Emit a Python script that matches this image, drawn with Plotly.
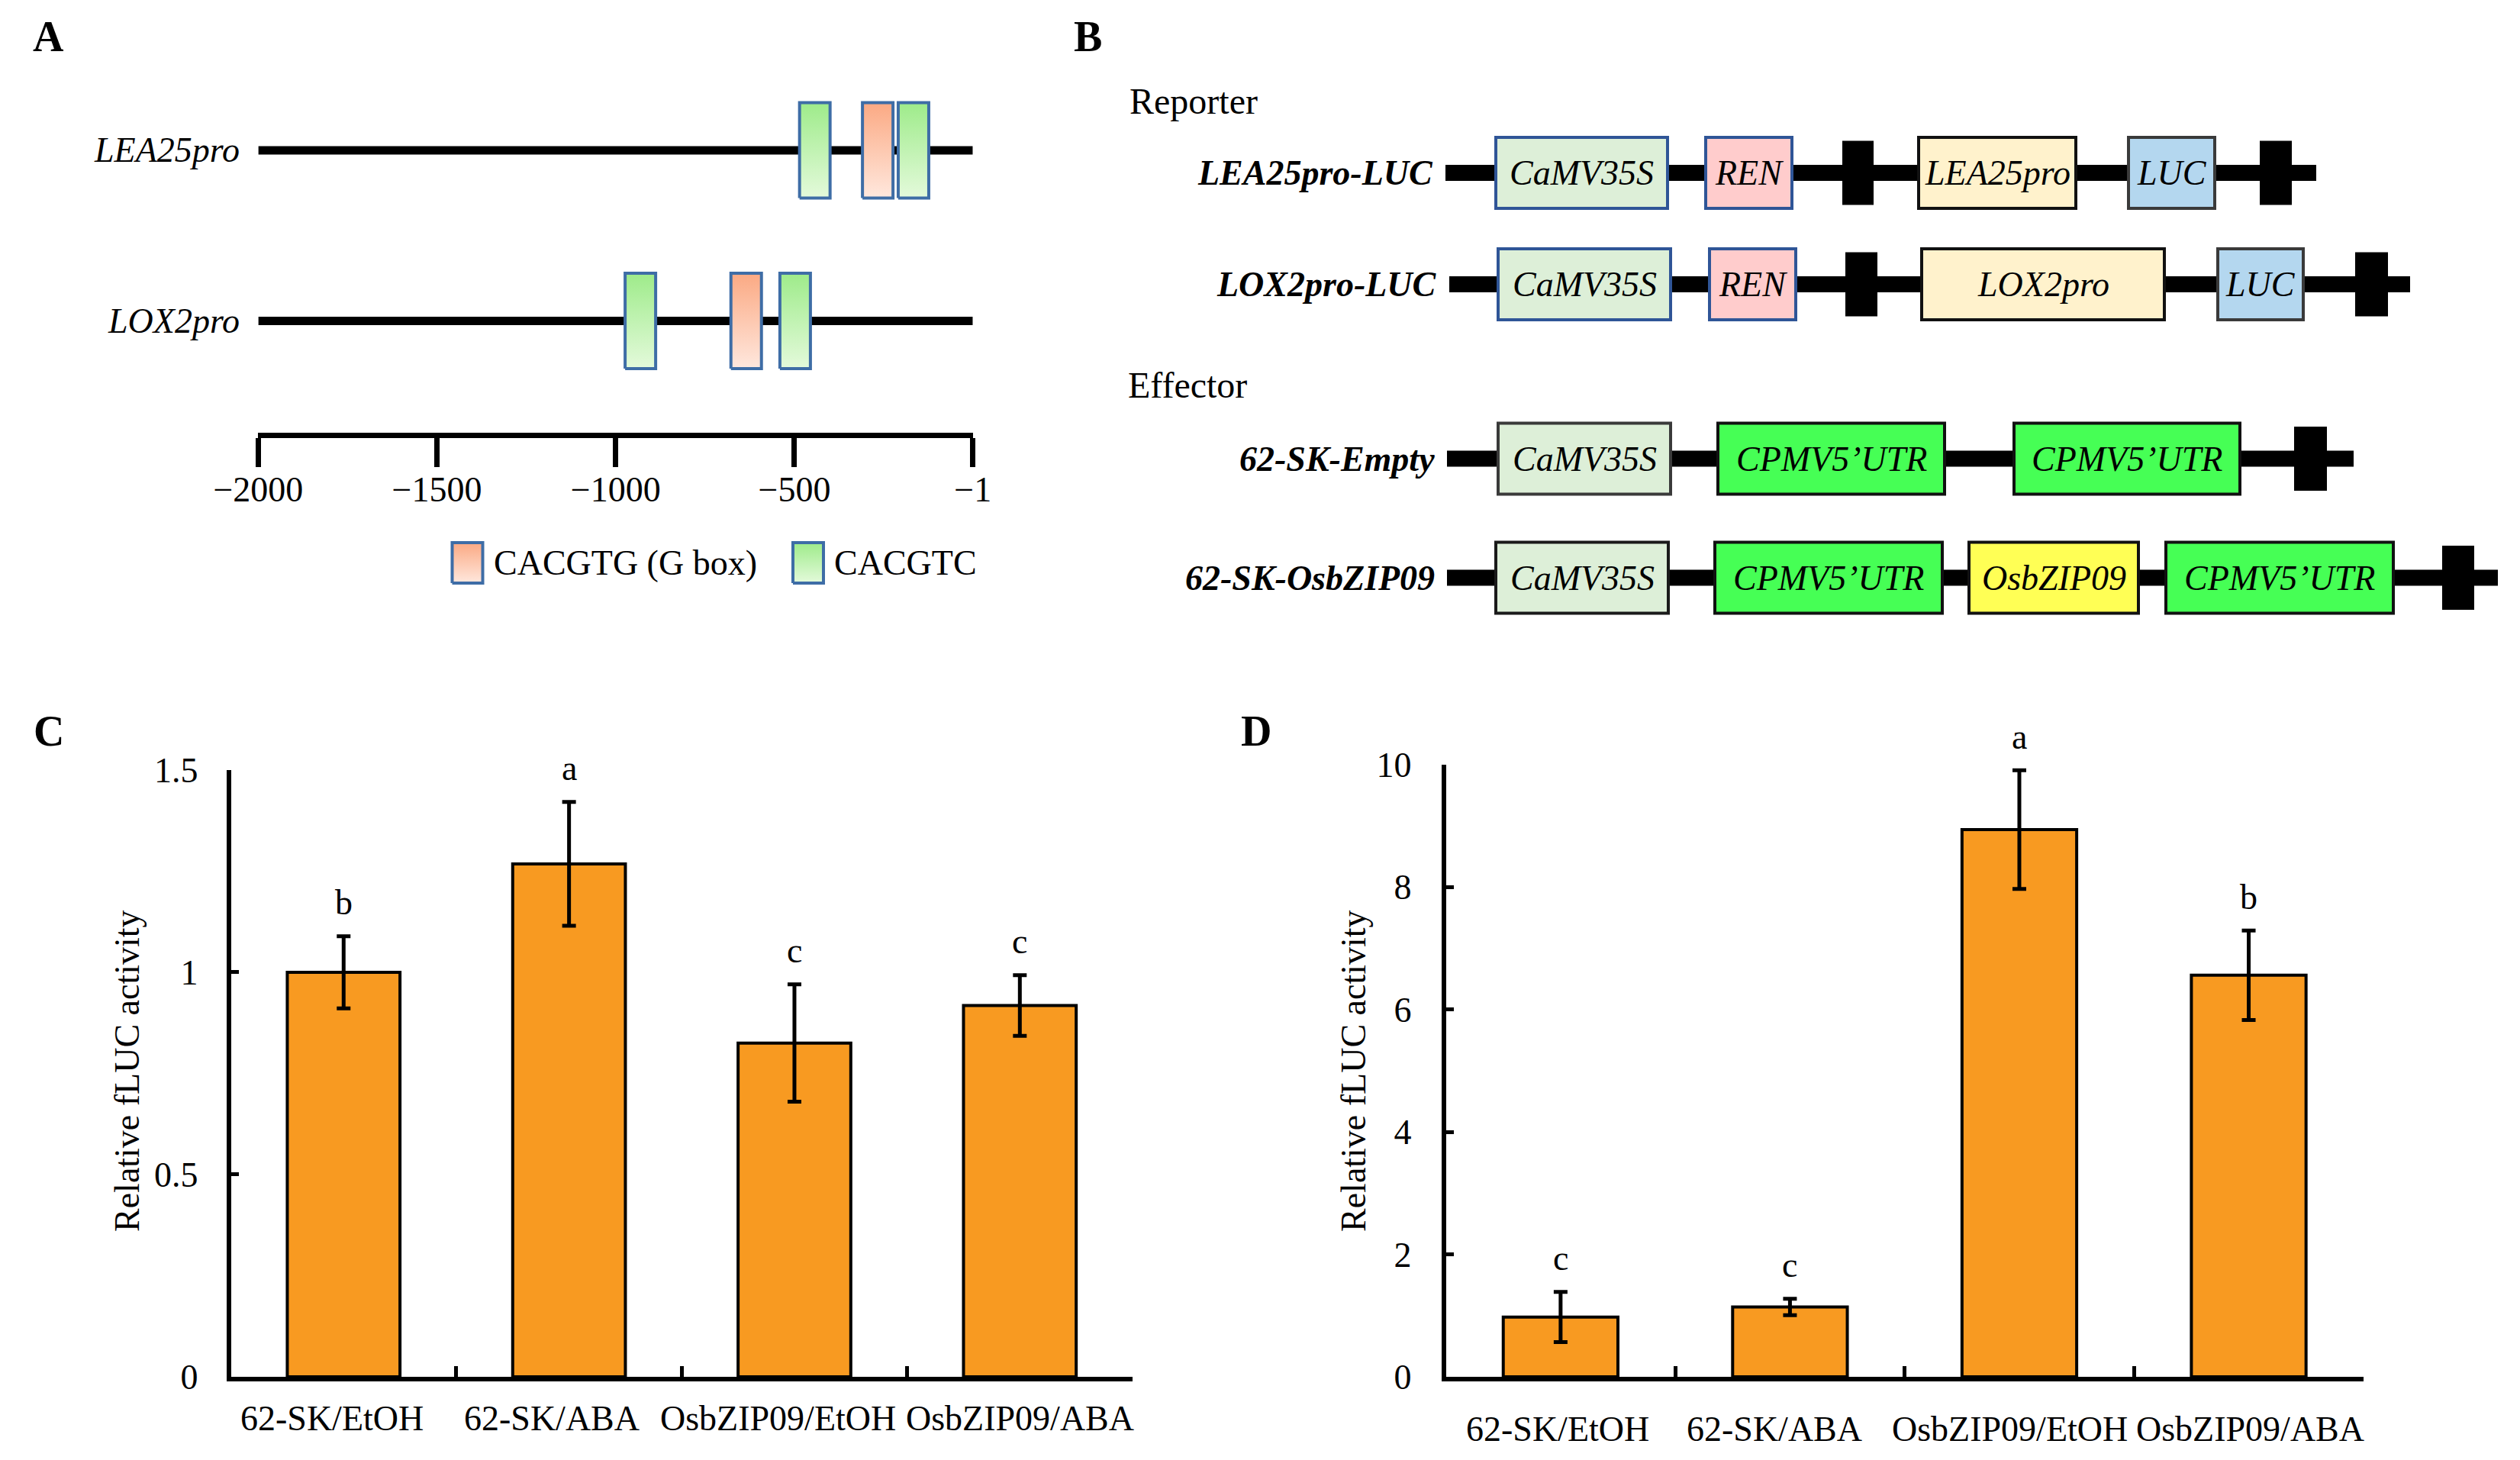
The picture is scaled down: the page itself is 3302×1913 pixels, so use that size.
import plotly.graph_objects as go

# ---------------- data ----------------
# Panel A: promoter motifs (positions relative to TSS, bp)
promoters = ["LEA25pro", "LOX2pro"]
lea25_motif_pos = [-443, -267, -167]
lea25_motif_type = ["CACGTC", "CACGTG", "CACGTC"]
lox2_motif_pos = [-931, -635, -498]
lox2_motif_type = ["CACGTC", "CACGTG", "CACGTC"]
promoter_start = -2000
promoter_end = -1
axisA_ticks = [-2000, -1500, -1000, -500, -1]
axisA_ticktext = ["\u22122000", "\u22121500", "\u22121000", "\u2212500", "\u22121"]
legendA_labels = ["CACGTG (G box)", "CACGTC"]

# Panel B: constructs
construct_groups = ["Reporter", "Effector"]
constructs = ["LEA25pro-LUC", "LOX2pro-LUC", "62-SK-Empty", "62-SK-OsbZIP09"]
construct_parts = [
    ["CaMV35S", "REN", "T", "LEA25pro", "LUC", "T"],
    ["CaMV35S", "REN", "T", "LOX2pro", "LUC", "T"],
    ["CaMV35S", "CPMV5\u2019UTR", "CPMV5\u2019UTR", "T"],
    ["CaMV35S", "CPMV5\u2019UTR", "OsbZIP09", "CPMV5\u2019UTR", "T"],
]

# Panels C and D: relative fLUC activity
categories = ["62-SK/EtOH", "62-SK/ABA", "OsbZIP09/EtOH", "OsbZIP09/ABA"]
c_values = [1.00, 1.268, 0.825, 0.918]
c_errors = [0.089, 0.153, 0.145, 0.075]
c_letters = ["b", "a", "c", "c"]
d_values = [0.975, 1.14, 8.94, 6.56]
d_errors = [0.41, 0.135, 0.97, 0.73]
d_letters = ["c", "c", "a", "b"]
c_yticks = [0, 0.5, 1, 1.5]
c_yticktext = ["0", "0.5", "1", "1.5"]
d_yticks = [0, 2, 4, 6, 8, 10]
y_title = "Relative fLUC activity"

# ---------------- layout helpers ----------------
W, H = 3302, 1913
FONT = "Liberation Serif, Times New Roman, serif"
FS = 46


def fx(px):
    return px / W


def fy(py):
    return 1 - py / H


fig = go.Figure()
annotations = []
shapes = []

# ---------------- Panel A ----------------
A_x0, A_x1 = 338.4, 1274.7        # pixel positions of -2000 and -1
A_row_py = [197.0, 420.5]         # LEA25pro, LOX2pro row centres (px)
A_dom_top, A_dom_bot = 120.0, 800.0
unit_px = A_row_py[1] - A_row_py[0]   # px per row unit
row_vals = [1, 0]
yA_range = [-(A_dom_bot - A_row_py[1]) / unit_px, 1 + (A_row_py[0] - A_dom_top) / unit_px]
bp_per_px = (promoter_end - promoter_start) / (A_x1 - A_x0)
box_w_bp = 40 * bp_per_px
box_h = 62.5 / unit_px

motif_colors = {
    "CACGTG": ("#FFE8DE", "#FBA983"),
    "CACGTC": ("#E4FADB", "#9EEB8A"),
}
motif_border = "#3E6DA6"


def motif_box(xc, yc, half_w, half_h, mtype, xa="x", ya="y"):
    light, dark = motif_colors[mtype]
    fig.add_trace(go.Scatter(
        x=[xc - half_w, xc + half_w, xc + half_w, xc - half_w, xc - half_w],
        y=[yc - half_h, yc - half_h, yc + half_h, yc + half_h, yc - half_h],
        mode="lines", fill="toself",
        fillgradient=dict(type="vertical", colorscale=[[0, light], [1, dark]]),
        line=dict(color=motif_border, width=4),
        xaxis=xa, yaxis=ya, hoverinfo="skip", showlegend=False))


for name, yv, pos, types in zip(promoters, row_vals,
                                [lea25_motif_pos, lox2_motif_pos],
                                [lea25_motif_type, lox2_motif_type]):
    fig.add_trace(go.Scatter(x=[promoter_start, promoter_end], y=[yv, yv], mode="lines",
                             line=dict(color="black", width=11), xaxis="x", yaxis="y",
                             hoverinfo="skip", showlegend=False))
    for p, t in zip(pos, types):
        motif_box(p, yv, box_w_bp / 2, box_h, t)
    annotations.append(dict(x=promoter_start, y=yv, xref="x", yref="y", text=name,
                            xanchor="right", yanchor="middle", xshift=-22, showarrow=False,
                            font=dict(family=FONT, size=FS, color="black", style="italic")))

# legend of panel A
leg_py = 737.5
leg_box_px = [612.5, 1059.0]
leg_text_px = [644.5, 1090.6]
leg_y = -(leg_py - A_row_py[1]) / unit_px
for lab, bpx, tpx, mt in zip(legendA_labels, leg_box_px, leg_text_px, ["CACGTG", "CACGTC"]):
    xc = promoter_start + (bpx - A_x0) * bp_per_px
    motif_box(xc, leg_y, box_w_bp / 2, 26.5 / unit_px, mt)
    annotations.append(dict(x=fx(tpx), y=fy(leg_py), xref="paper", yref="paper", text=lab,
                            xanchor="left", yanchor="middle", showarrow=False,
                            font=dict(family=FONT, size=FS, color="black")))

# ---------------- Panel B ----------------
B_row_y = [226.5, 372.5, 601.0, 757.0]
B_line_x = [(1894, 3035), (1899, 3158), (1896, 3084), (1896, 3273)]
B_part_x = [
    [(1960, 2185), (2235, 2348), (2414, 2455), (2514, 2720), (2789, 2902), (2961, 3003)],
    [(1963, 2189), (2240, 2353), (2418, 2460), (2518, 2836), (2906, 3018), (3086, 3129)],
    [(1963, 2189), (2251, 2548), (2639, 2935), (3006, 3049)],
    [(1960, 2186), (2247, 2545), (2580, 2802), (2838, 3136), (3200, 3242)],
]
B_group_pos = [(1478, 132), (1476, 504)]
box_half_h = 46.5
term_half_h = 42
part_style = {
    "CaMV35S": "#DDEFD8",
    "REN": "#FFCCCC",
    "LEA25pro": "#FFF2CC",
    "LOX2pro": "#FFF2CC",
    "LUC": "#B4D7EF",
    "CPMV5\u2019UTR": "#46FF55",
    "OsbZIP09": "#FFFF55",
}
part_border = {
    "CaMV35S": ["#2F5597", "#2F5597", "#3A3A3A", "#1A1A1A"],
    "REN": ["#2F5597"] * 4,
    "LUC": ["#3A3A3A"] * 4,
}

for gname, (gx, gy) in zip(construct_groups, B_group_pos):
    annotations.append(dict(x=gx, y=gy, xref="x2", yref="y2", text=gname, xanchor="left",
                            yanchor="middle", showarrow=False,
                            font=dict(family=FONT, size=48, color="black")))

for r, (cname, parts) in enumerate(zip(constructs, construct_parts)):
    yc = B_row_y[r]
    lx0, lx1 = B_line_x[r]
    fig.add_trace(go.Scatter(x=[lx0, lx1], y=[yc, yc], mode="lines",
                             line=dict(color="black", width=21), xaxis="x2", yaxis="y2",
                             hoverinfo="skip", showlegend=False))
    annotations.append(dict(x=lx0 - 14, y=yc, xref="x2", yref="y2", text="<b><i>" + cname + "</i></b>",
                            xanchor="right", yanchor="middle", showarrow=False,
                            font=dict(family=FONT, size=FS, color="black")))
    for part, (x0, x1) in zip(parts, B_part_x[r]):
        if part == "T":
            shapes.append(dict(type="rect", xref="x2", yref="y2", x0=x0, x1=x1,
                               y0=yc - term_half_h, y1=yc + term_half_h,
                               fillcolor="black", line=dict(width=0), layer="above"))
            continue
        border = part_border.get(part, ["#111111"] * 4)[r]
        shapes.append(dict(type="rect", xref="x2", yref="y2", x0=x0, x1=x1,
                           y0=yc - box_half_h, y1=yc + box_half_h,
                           fillcolor=part_style[part], line=dict(color=border, width=4),
                           layer="above"))
        annotations.append(dict(x=(x0 + x1) / 2, y=yc, xref="x2", yref="y2", text=part,
                                xanchor="center", yanchor="middle", showarrow=False,
                                font=dict(family=FONT, size=FS, color="black", style="italic")))

# ---------------- Panels C and D ----------------
BAR_COLOR = "#F89A21"


def add_bars(vals, errs, letters, xa, ya, label_py, label_shift):
    fig.add_trace(go.Bar(
        x=categories, y=vals, xaxis=xa, yaxis=ya, width=0.5,
        marker=dict(color=BAR_COLOR, line=dict(color="black", width=4)),
        error_y=dict(type="data", array=errs, color="black", thickness=5, width=9),
        hoverinfo="skip", showlegend=False))
    for cat, v, e, l, sh in zip(categories, vals, errs, letters, label_shift):
        annotations.append(dict(x=cat, y=v + e, xref=xa, yref=ya, text=l, xanchor="center",
                                yanchor="middle", yshift=44, showarrow=False,
                                font=dict(family=FONT, size=FS, color="black")))
        # category label under the axis
        annotations.append(dict(x=cat, y=fy(label_py), xref=xa, yref="paper", text=cat,
                                xanchor="center", yanchor="middle", xshift=sh, showarrow=False,
                                font=dict(family=FONT, size=FS, color="black")))


add_bars(c_values, c_errors, c_letters, "x3", "y3", 1858, [-15, -23, -21, 0])
add_bars(d_values, d_errors, d_letters, "x4", "y4", 1872, [-4, -20, -12, 2])

axis_common = dict(showline=True, linecolor="black", linewidth=6, showgrid=False,
                   zeroline=False, ticks="inside", tickcolor="black", tickwidth=5,
                   automargin=False,
                   tickfont=dict(family=FONT, size=FS, color="black"))

C_x = (302.6, 1484.0)
C_y = (1009.0, 1803.9)
D_x = (1894.6, 3096.8)
D_y = (1002.0, 1803.9)

for xt, yt in [(166, 1403), (1773, 1403)]:
    annotations.append(dict(x=fx(xt), y=fy(yt), xref="paper", yref="paper", text=y_title,
                            textangle=-90, xanchor="center", yanchor="middle", showarrow=False,
                            font=dict(family=FONT, size=FS, color="black")))

# panel letters
for lab, (px, py) in zip(["A", "B", "C", "D"], [(63, 48), (1425, 48), (64, 958), (1646, 958)]):
    annotations.append(dict(x=fx(px), y=fy(py), xref="paper", yref="paper", text="<b>" + lab + "</b>",
                            xanchor="center", yanchor="middle", showarrow=False,
                            font=dict(family=FONT, size=56, color="black")))

fig.update_layout(
    template="none",
    width=W, height=H, margin=dict(l=0, r=0, t=0, b=0, pad=0, autoexpand=False),
    paper_bgcolor="white", plot_bgcolor="rgba(0,0,0,0)",
    font=dict(family=FONT, size=FS, color="black"),
    showlegend=False,
    xaxis=dict(domain=[fx(A_x0), fx(A_x1)], range=[promoter_start, promoter_end], anchor="free",
               position=fy(570), showline=True, linecolor="black", linewidth=7,
               ticks="outside", ticklen=38, tickwidth=7, tickcolor="black",
               tickvals=axisA_ticks, ticktext=axisA_ticktext, showgrid=False, zeroline=False,
               automargin=False, tickangle=0,
               tickfont=dict(family=FONT, size=FS, color="black"), ticklabelstandoff=-10),
    yaxis=dict(domain=[fy(A_dom_bot), fy(A_dom_top)], range=yA_range, visible=False,
               automargin=False),
    xaxis2=dict(domain=[fx(1380), 1], range=[1380, W], visible=False, automargin=False),
    yaxis2=dict(domain=[fy(880), 1], range=[880, 0], visible=False, automargin=False),
    xaxis3=dict(domain=[fx(C_x[0]), fx(C_x[1])], anchor="y3", type="category", range=[-0.5, 3.5],
                tickson="boundaries", ticklen=14, showticklabels=False, **axis_common),
    yaxis3=dict(domain=[fy(C_y[1]), fy(C_y[0])], anchor="x3", range=[0, 1.5],
                tickvals=c_yticks, ticktext=c_yticktext, ticklen=10, ticklabelstandoff=28,
                **axis_common),
    xaxis4=dict(domain=[fx(D_x[0]), fx(D_x[1])], anchor="y4", type="category", range=[-0.5, 3.5],
                tickson="boundaries", ticklen=14, showticklabels=False, **axis_common),
    yaxis4=dict(domain=[fy(D_y[1]), fy(D_y[0])], anchor="x4", range=[0, 10],
                tickvals=d_yticks, ticklen=10, ticklabelstandoff=30, **axis_common),
    annotations=annotations,
    shapes=shapes,
)

fig.write_html(
    "out.html",
    config={"displayModeBar": False},
    post_script="document.body.style.margin='0px';document.body.style.padding='0px';"
                "document.documentElement.style.overflow='hidden';",
)
